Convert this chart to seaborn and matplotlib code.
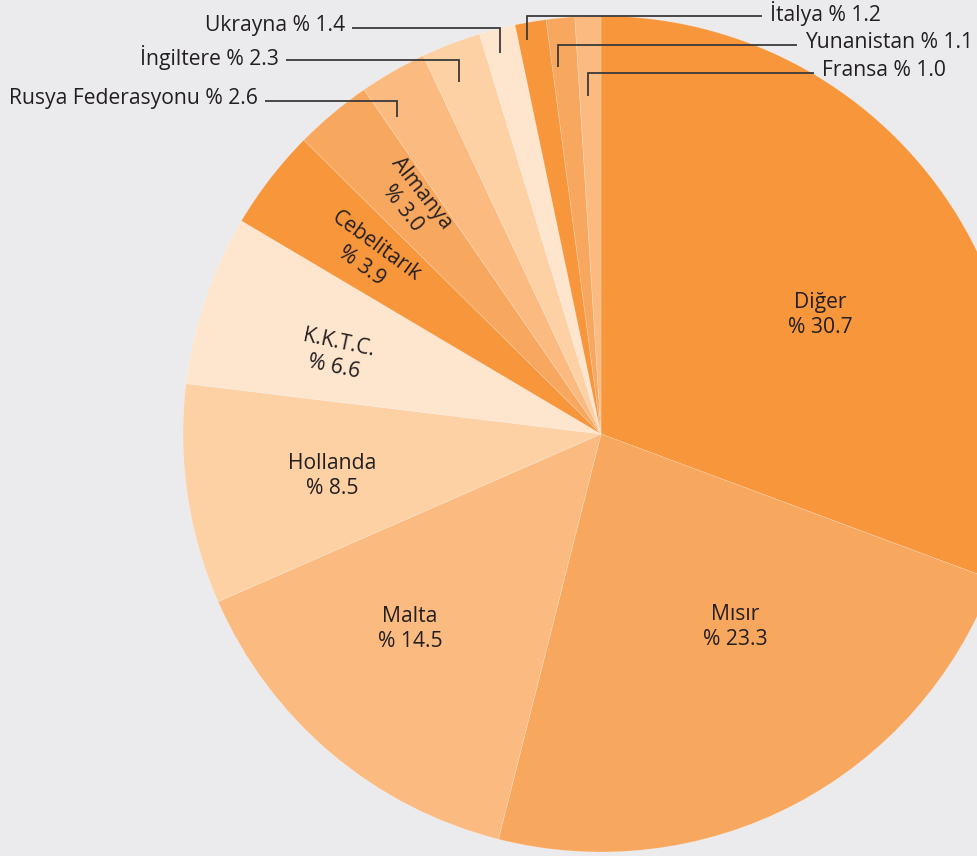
import matplotlib
matplotlib.use("Agg")
import matplotlib.pyplot as plt
import seaborn as sns
import numpy as np

countries = ["Diğer", "Mısır", "Malta", "Hollanda", "K.K.T.C.", "Cebelitarık", "Almanya",
             "Rusya Federasyonu", "İngiltere", "Ukrayna", "İtalya", "Yunanistan", "Fransa"]
shares = [30.7, 23.3, 14.5, 8.5, 6.6, 3.9, 3.0, 2.6, 2.3, 1.4, 1.2, 1.1, 1.0]
palette5 = ["#f7963a", "#f8a75f", "#fbbb80", "#fdd1a4", "#fee5cd"]

sns.set_style("white")
plt.rcParams['font.family'] = ['Open Sans', 'DejaVu Sans']

W, H = 978, 856
BG = "#ebebed"
fig = plt.figure(figsize=(W / 100, H / 100), dpi=100, facecolor=BG)
ax = fig.add_axes([0, 0, 1, 1])
ax.set_xlim(0, W)
ax.set_ylim(0, H)
ax.set_aspect("equal")
ax.axis("off")
ax.set_facecolor(BG)

def py(y):
    return H - y

colors = [palette5[i % 5] for i in range(len(shares))]
cx, cy, R = 601, py(434), 418
wedges, _ = ax.pie(shares, colors=colors, startangle=90, counterclock=False,
                   center=(cx, cy), radius=R, normalize=True,
                   wedgeprops=dict(edgecolor=(1, 1, 1, 0.25), linewidth=0.5))
ax.set_xlim(0, W)
ax.set_ylim(0, H)

fs = 15.2
txt = "#231f20"
# inside labels: (x, y, rotation)
inside = {
    "Diğer": (820, 315, 0),
    "Mısır": (735, 627, 0),
    "Malta": (410, 629, 0),
    "Hollanda": (332, 476, 0),
    "K.K.T.C.": (336, 355, -12),
    "Cebelitarık": (369, 256, -36),
    "Almanya": (412, 201, -52),
}
for name, val in zip(countries, shares):
    if name in inside:
        x, y, rot = inside[name]
        ax.text(x, py(y), f"{name}\n% {val:.1f}", ha="center", va="center",
                rotation=rot, rotation_mode="anchor", fontsize=fs, color=txt,
                linespacing=1.25)

# outside labels with leader lines: (text x, text y, line end x, drop y, ha)
outside = {
    "Ukrayna": (345, 25, 500, 53, "right"),
    "İngiltere": (279, 57, 459, 82, "right"),
    "Rusya Federasyonu": (258, 98, 397, 117, "right"),
    "İtalya": (770, 13, 527, 40, "left"),
    "Yunanistan": (805, 42, 558, 67, "left"),
    "Fransa": (822, 70, 588, 96, "left"),
}
lc = "#3a3a3a"
for name, val in zip(countries, shares):
    if name in outside:
        tx, ty, lx, dy, ha = outside[name]
        ax.text(tx, py(ty), f"{name} % {val:.1f}", ha=ha, va="center",
                fontsize=fs, color=txt)
        if ha == "right":
            x0 = tx + 7
        else:
            x0 = tx - 8
        ax.plot([x0, lx, lx], [py(ty + 3), py(ty + 3), py(dy)], color=lc, lw=1.3,
                solid_capstyle="butt", solid_joinstyle="miter")

fig.savefig("out.png", dpi=100, facecolor=BG)
